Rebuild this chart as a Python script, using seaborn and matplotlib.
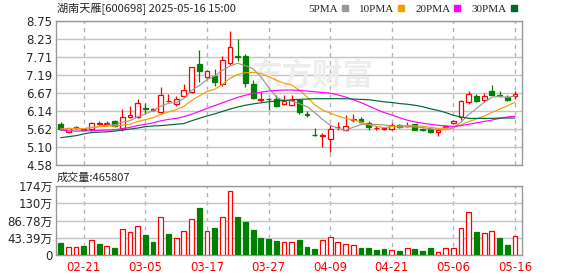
import numpy as np
import pandas as pd
import matplotlib
matplotlib.use("Agg")
import matplotlib.pyplot as plt
import seaborn as sns
from matplotlib.lines import Line2D

# ---------------- data ----------------
dates = ["02-18", "02-19", "02-20", "02-21", "02-24", "02-25", "02-26", "02-27", "02-28", "03-03",
         "03-04", "03-05", "03-06", "03-07", "03-10", "03-11", "03-12", "03-13", "03-14", "03-17",
         "03-18", "03-19", "03-20", "03-21", "03-24", "03-25", "03-26", "03-27", "03-28", "03-31",
         "04-01", "04-02", "04-03", "04-07", "04-08", "04-09", "04-10", "04-11", "04-14", "04-15",
         "04-16", "04-17", "04-18", "04-21", "04-22", "04-23", "04-24", "04-25", "04-28", "04-29",
         "04-30", "05-06", "05-07", "05-08", "05-09", "05-12", "05-13", "05-14", "05-15", "05-16"]
opens = [5.76, 5.55, 5.68, 5.62, 5.63, 5.77, 5.78, 5.85, 5.65, 5.98,
         5.97, 6.23, 6.17, 6.11, 6.42, 6.34, 6.57, 6.69, 7.50, 7.12,
         7.15, 6.93, 7.53, 7.73, 7.75, 6.94, 6.47, 6.50, 6.49, 6.34,
         6.31, 6.47, 6.06, 5.45, 5.43, 5.33, 5.67, 5.60, 5.88, 5.92,
         5.79, 5.64, 5.62, 5.62, 5.74, 5.72, 5.76, 5.61, 5.63, 5.53,
         5.68, 5.79, 5.96, 6.40, 6.57, 6.45, 6.73, 6.62, 6.55, 6.59]
highs = [5.83, 5.66, 5.71, 5.63, 5.82, 5.85, 5.85, 5.87, 6.19, 6.30,
         6.49, 6.38, 6.24, 6.83, 6.63, 6.57, 6.93, 7.42, 7.92, 7.32,
         7.36, 7.74, 8.45, 8.22, 7.78, 7.05, 6.69, 6.52, 6.62, 6.62,
         6.62, 6.49, 6.15, 5.65, 5.50, 5.74, 5.82, 6.03, 6.06, 5.97,
         5.84, 5.71, 5.68, 5.79, 5.76, 5.82, 5.78, 5.65, 5.69, 5.60,
         5.74, 5.89, 6.45, 6.71, 6.65, 6.66, 6.89, 6.73, 6.62, 6.73]
lows = [5.60, 5.53, 5.62, 5.58, 5.57, 5.73, 5.75, 5.69, 5.57, 5.94,
        5.94, 6.09, 6.13, 6.06, 6.40, 6.30, 6.55, 6.67, 6.98, 7.10,
        6.88, 6.88, 7.47, 7.60, 6.83, 6.50, 6.40, 6.18, 6.26, 6.32,
        6.30, 6.05, 5.97, 5.42, 5.11, 4.95, 5.60, 5.57, 5.82, 5.79,
        5.60, 5.60, 5.58, 5.60, 5.65, 5.69, 5.58, 5.57, 5.50, 5.43,
        5.64, 5.76, 5.89, 6.34, 6.40, 6.39, 6.60, 6.56, 6.42, 6.49]
closes = [5.62, 5.64, 5.66, 5.60, 5.81, 5.79, 5.80, 5.72, 5.97, 6.02,
          6.37, 6.21, 6.19, 6.62, 6.44, 6.48, 6.76, 7.41, 7.30, 7.31,
          6.98, 7.63, 8.01, 7.70, 6.96, 6.52, 6.50, 6.48, 6.28, 6.44,
          6.47, 6.11, 6.04, 5.44, 5.45, 5.62, 5.69, 5.71, 5.90, 5.83,
          5.67, 5.66, 5.64, 5.74, 5.67, 5.74, 5.60, 5.59, 5.53, 5.58,
          5.70, 5.86, 6.44, 6.64, 6.44, 6.58, 6.62, 6.58, 6.46, 6.65]
volumes = [31.0, 20.1, 20.1, 22.6, 36.9, 27.7, 21.8, 17.6, 64.6, 57.9,
           72.1, 50.3, 33.5, 94.7, 52.8, 41.9, 59.5, 89.7, 118.2, 59.5,
           67.9, 94.7, 160.1, 95.6, 83.0, 62.9, 42.8, 40.2, 35.2, 32.7,
           32.7, 37.7, 20.1, 15.1, 36.9, 44.4, 31.9, 26.8, 24.3, 17.6,
           17.6, 12.6, 15.1, 11.7, 10.1, 16.8, 15.1, 10.1, 17.6, 8.4,
           16.8, 17.6, 67.1, 107.3, 57.9, 54.5, 59.5, 42.8, 25.2, 46.58]
ma20 = [5.59, 5.57, 5.56, 5.57, 5.57, 5.58, 5.59, 5.60, 5.63, 5.67,
        5.72, 5.76, 5.80, 5.86, 5.90, 5.93, 5.98, 6.05, 6.13, 6.22,
        6.30, 6.38, 6.46, 6.54, 6.60, 6.65, 6.69, 6.72, 6.74, 6.75,
        6.75, 6.74, 6.72, 6.70, 6.68, 6.66, 6.61, 6.55, 6.47, 6.39,
        6.29, 6.19, 6.10, 6.03, 5.95, 5.88, 5.83, 5.79, 5.76, 5.73,
        5.71, 5.70, 5.72, 5.76, 5.80, 5.84, 5.88, 5.93, 5.97, 5.99]
ma30 = [5.37, 5.40, 5.43, 5.48, 5.52, 5.53, 5.54, 5.56, 5.59, 5.62,
        5.65, 5.69, 5.71, 5.72, 5.74, 5.76, 5.78, 5.86, 5.93, 6.00,
        6.06, 6.13, 6.20, 6.26, 6.31, 6.35, 6.38, 6.41, 6.43, 6.45,
        6.47, 6.48, 6.49, 6.50, 6.50, 6.50, 6.50, 6.50, 6.49, 6.48,
        6.47, 6.44, 6.41, 6.39, 6.36, 6.34, 6.31, 6.27, 6.21, 6.16,
        6.10, 6.02, 5.97, 5.93, 5.93, 5.93, 5.93, 5.94, 5.94, 5.94]
price_tick_labels = ["4.58", "5.10", "5.62", "6.14", "6.67", "7.19", "7.71", "8.23", "8.75"]
vol_tick_values = [0, 43.39, 86.78, 130.17, 173.56]
vol_tick_labels = ["0", "43.39万", "86.78万", "130万", "174万"]
date_tick_labels = ["02-21", "03-05", "03-17", "03-27", "04-09", "04-21", "05-06", "05-16"]
legend_labels = ["5PMA", "10PMA", "20PMA", "30PMA"]
title_text = "湖南天雁[600698] 2025-05-16 15:00"
volume_text = "成交量:465807"
watermark = "东方财富"

# ---------------- styling ----------------
sns.set_style("white")
plt.rcParams["font.family"] = ["DejaVu Sans", "Noto Sans CJK SC"]

RED = "#ff0000"
GREEN = "#008000"
MA_COLORS = ["#999999", "#f0a000", "#ff00ff", "#006633"]
GRID = "#c4c4c4"
VGRID = "#b4b4b4"
FRAME = "#999999"

df = pd.DataFrame({"x": np.arange(len(dates)), "date": dates, "open": opens, "high": highs,
                   "low": lows, "close": closes, "vol": volumes, "ma20": ma20, "ma30": ma30})
df["ma5"] = df["close"].rolling(5, min_periods=1).mean()
df["ma10"] = df["close"].rolling(10, min_periods=1).mean()
df["up"] = df["close"] >= df["open"]
df["vol_up"] = df["close"] > df["close"].shift(1)

W, H = 578, 276
fig = plt.figure(figsize=(W / 100, H / 100), dpi=100)
ax = fig.add_axes([56 / W, 1 - 165 / H, 466 / W, 144 / H])
axv = fig.add_axes([56 / W, 1 - 255 / H, 466 / W, 69 / H])

xlim = (-0.6, len(dates) - 0.08)
tick_idx = [dates.index(d) for d in date_tick_labels]
pt = [float(t) for t in price_tick_labels]

# ---- price panel ----
ax.text(0.55, 0.62, watermark, transform=ax.transAxes, fontsize=22, fontweight="bold",
        color="#ededed", ha="center", va="center", family=["Noto Sans CJK SC"], zorder=1.5)

bw = 0.62
for _, r in df.iterrows():
    col = RED if r["up"] else GREEN
    ax.vlines(r["x"], r["low"], r["high"], color=col, lw=0.9, zorder=2)
    h = r["close"] - r["open"]
    if abs(h) < 0.012:
        ax.hlines((r["open"] + r["close"]) / 2, r["x"] - bw / 2, r["x"] + bw / 2, color=col, lw=1.0, zorder=3)
    else:
        ax.bar(r["x"], h, bottom=r["open"], width=bw,
               facecolor="white" if r["up"] else GREEN, edgecolor=col, linewidth=0.9, zorder=3)

for col_name, c in zip(["ma5", "ma10", "ma20", "ma30"], MA_COLORS):
    sns.lineplot(data=df, x="x", y=col_name, ax=ax, color=c, lw=0.85, zorder=4, legend=False)
ax.set_xlabel("")
ax.set_ylabel("")
ax.set_xlim(*xlim)
ax.set_ylim(pt[0], pt[-1])
ax.set_yticks(pt)
ax.set_yticklabels(price_tick_labels, fontsize=8.5)
ax.set_xticks(tick_idx)
ax.set_xticklabels([])

# ---- volume panel ----
vmax = vol_tick_values[-1]
for _, r in df.iterrows():
    if r["vol_up"]:
        axv.bar(r["x"], r["vol"], width=bw, facecolor="white", edgecolor=RED, linewidth=0.9, zorder=3)
    else:
        axv.bar(r["x"], r["vol"], width=bw, facecolor=GREEN, edgecolor=GREEN, linewidth=0.9, zorder=3)
axv.set_xlim(*xlim)
axv.set_ylim(0, vmax)
axv.set_yticks(vol_tick_values)
axv.set_yticklabels(vol_tick_labels, fontsize=8.5)
axv.set_xticks(tick_idx)
axv.set_xticklabels(date_tick_labels, fontsize=8.5, color=RED)

# ---- gridlines via the tick system ----
for a in (ax, axv):
    a.set_axisbelow(True)
    a.grid(True, axis="y", color=GRID, linewidth=1.0, linestyle="-")
    a.grid(True, axis="x", color=VGRID, linewidth=1.0, linestyle=(0, (3, 3)))
    for s in a.spines.values():
        s.set_color(FRAME)
        s.set_linewidth(1.0)
        s.set_visible(True)
    a.tick_params(length=0)
    a.tick_params(axis="y", pad=2.5)
axv.tick_params(axis="x", pad=4)

# ---- texts ----
fig.text(57 / W, 1 - 9 / H, title_text, fontsize=8, ha="left", va="center",
         family=["Noto Sans CJK SC", "DejaVu Sans"])
fig.text(57 / W, 1 - 178 / H, volume_text, fontsize=8, ha="left", va="center",
         family=["Noto Sans CJK SC", "DejaVu Sans"])

handles = [Line2D([], [], marker="s", color=c, ls="None", markersize=4) for c in MA_COLORS]
fig.legend(handles, legend_labels, ncol=4, markerfirst=False, frameon=False,
           loc="center right", bbox_to_anchor=(518 / W, 1 - 9 / H),
           prop={"family": "Liberation Serif", "size": 8}, handletextpad=0.2,
           columnspacing=0.9, handlelength=0.8, borderaxespad=0, borderpad=0)

fig.savefig("out.png", dpi=100)
